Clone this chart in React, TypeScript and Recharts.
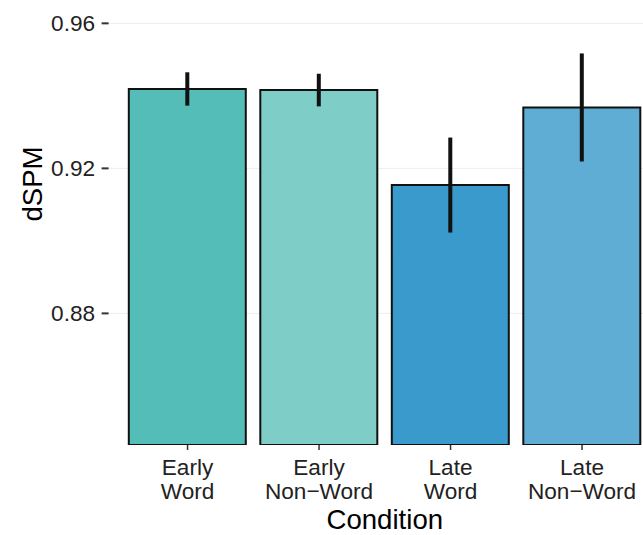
import React from 'react';
import { BarChart, Bar, XAxis, YAxis, CartesianGrid, Cell, ErrorBar, Label } from 'recharts';

const conditions = ['Early Word', 'Early Non−Word', 'Late Word', 'Late Non−Word'];
const meanDSPM = [0.9419, 0.9416, 0.9154, 0.9368];
const seDSPM = [0.0046, 0.0045, 0.0131, 0.0149];
const yTicks = [0.88, 0.92, 0.96];
const yDomain = [0.8437, 0.9655];

const barColors = ['#54BDB7', '#7ECDC6', '#3A9ACC', '#5FADD5'];

const data = conditions.map((c, i) => ({ condition: c, dspm: meanDSPM[i], se: seDSPM[i] }));

const FONT = '"Liberation Sans", Arial, Helvetica, sans-serif';
const TICK_SIZE = 22.6;
const TITLE_SIZE = 27.6;

const XTick = (props: any) => {
  const { x, y, payload } = props;
  const s = String(payload.value);
  const idx = s.indexOf(' ');
  const lines = [s.slice(0, idx), s.slice(idx + 1)];
  return (
    <text x={x} y={y} textAnchor="middle" fontSize={TICK_SIZE} fill="#222" fontFamily={FONT}>
      {lines.map((l, i) => (
        <tspan key={i} x={x} dy={i === 0 ? 22.5 : 24}>
          {l}
        </tspan>
      ))}
    </text>
  );
};

const YTitle = (props: any) => {
  const vb = props.viewBox || { x: 0, y: 0, width: 0, height: 0 };
  const cx = vb.x + 42;
  const cy = 184;
  return (
    <text
      x={cx}
      y={cy}
      transform={`rotate(-90, ${cx}, ${cy})`}
      textAnchor="middle"
      fontSize={TITLE_SIZE}
      fill="#000"
      fontFamily={FONT}
    >
      dSPM
    </text>
  );
};

const XTitle = (props: any) => {
  const vb = props.viewBox || { x: 0, y: 0, width: 0, height: 0 };
  const cx = vb.x + vb.width / 2;
  const cy = vb.y + 84;
  return (
    <text x={cx} y={cy} textAnchor="middle" fontSize={TITLE_SIZE} fill="#000" fontFamily={FONT}>
      Condition
    </text>
  );
};

export default function App() {
  return (
    <div
      style={{
        position: 'absolute',
        left: 0,
        top: 0,
        width: 643,
        height: 535,
        overflow: 'hidden',
        background: '#fff',
      }}
    >
      <BarChart
        width={670}
        height={535}
        data={data}
        margin={{ top: 3.4, right: 9, bottom: 0, left: 0 }}
      >
        <CartesianGrid
          vertical={false}
          horizontalValues={yTicks}
          stroke="#EDEDED"
          strokeWidth={1}
        />
        <XAxis
          dataKey="condition"
          height={90}
          padding={{ left: 13.2, right: 13.2 }}
          axisLine={false}
          tickLine={{ stroke: '#333', strokeWidth: 1.5 }}
          tickSize={5}
          tick={<XTick />}
          interval={0}
        >
          <Label content={<XTitle />} />
        </XAxis>
        <YAxis
          type="number"
          width={108.6}
          domain={yDomain}
          allowDataOverflow
          ticks={yTicks}
          axisLine={false}
          tickLine={{ stroke: '#333', strokeWidth: 2 }}
          tickSize={7}
          tickMargin={6.5}
          tickFormatter={(v: number) => v.toFixed(2)}
          tick={{ fontSize: TICK_SIZE, fill: '#222', fontFamily: FONT }}
        >
          <Label content={<YTitle />} />
        </YAxis>
        <Bar
          dataKey="dspm"
          barSize={117}
          stroke="#111"
          strokeWidth={2}
          isAnimationActive={false}
        >
          {data.map((d, i) => (
            <Cell key={d.condition} fill={barColors[i]} />
          ))}
          <ErrorBar dataKey="se" width={0} strokeWidth={4} stroke="#111" direction="y" />
        </Bar>
      </BarChart>
    </div>
  );
}
